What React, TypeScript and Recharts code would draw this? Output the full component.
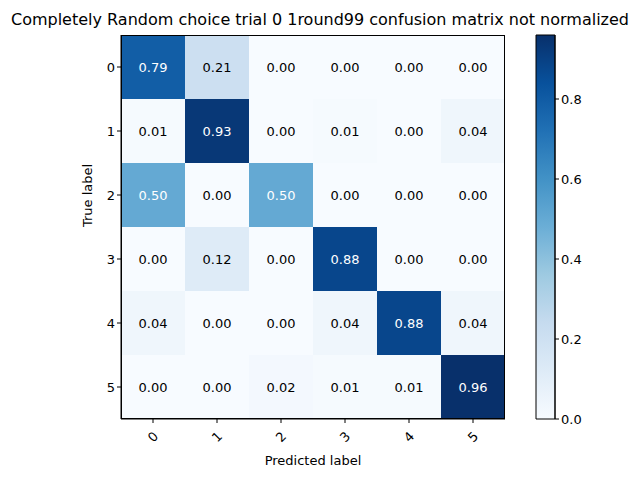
import React from "react";
import { ScatterChart, Scatter, XAxis, YAxis, BarChart, Bar } from "recharts";

const classes = [0, 1, 2, 3, 4, 5];
const matrix = [
  [0.79, 0.21, 0.0, 0.0, 0.0, 0.0],
  [0.01, 0.93, 0.0, 0.01, 0.0, 0.04],
  [0.5, 0.0, 0.5, 0.0, 0.0, 0.0],
  [0.0, 0.12, 0.0, 0.88, 0.0, 0.0],
  [0.04, 0.0, 0.0, 0.04, 0.88, 0.04],
  [0.0, 0.0, 0.02, 0.01, 0.01, 0.96],
];
const colorbarTicks = [0, 0.2, 0.4, 0.6, 0.8];
const vmax = 0.96;

const blues = ["#f7fbff", "#deebf7", "#c6dbef", "#9ecae1", "#6baed6", "#4292c6", "#2171b5", "#08519c", "#08306b"];

function hexToRgb(h: string) {
  return [1, 3, 5].map((i) => parseInt(h.slice(i, i + 2), 16));
}
function blueAt(t: number) {
  const c = Math.max(0, Math.min(1, t)) * (blues.length - 1);
  const i = Math.min(Math.floor(c), blues.length - 2);
  const f = c - i;
  const a = hexToRgb(blues[i]);
  const b = hexToRgb(blues[i + 1]);
  const m = a.map((v, k) => Math.round(v + (b[k] - v) * f));
  return `rgb(${m[0]},${m[1]},${m[2]})`;
}

const cells = matrix.flatMap((row, r) => row.map((v, c) => ({ x: c, y: r, v })));

const CELL = 64;
const font = "DejaVu Sans, sans-serif";

const CellShape = (props: any) => {
  const { cx, cy, payload } = props;
  return (
    <g>
      <rect x={cx - CELL / 2} y={cy - CELL / 2} width={CELL} height={CELL} fill={blueAt(payload.v / vmax)} />
      <text
        x={cx}
        y={cy}
        textAnchor="middle"
        dominantBaseline="central"
        fontSize={13}
        fontFamily={font}
        fill={payload.v > vmax / 2 ? "#fff" : "#000"}
      >
        {payload.v.toFixed(2)}
      </text>
    </g>
  );
};

const XTick = (props: any) => {
  const { x, y, payload } = props;
  return (
    <text
      x={x}
      y={y + 12}
      transform={`rotate(-45 ${x} ${y + 12})`}
      textAnchor="middle"
      dominantBaseline="central"
      fontSize={13}
      fontFamily={font}
      fill="#000"
    >
      {payload.value}
    </text>
  );
};

export default function App() {
  const tickStyle = { fill: "#000", fontSize: 13, fontFamily: font };
  return (
    <div style={{ position: "absolute", left: 0, top: 0, width: 640, height: 480, background: "#fff" }}>
      <div
        style={{
          position: "absolute",
          top: 10,
          left: 0,
          width: 640,
          textAlign: "center",
          fontFamily: font,
          fontSize: 16,
          whiteSpace: "nowrap",
        }}
      >
        Completely Random choice trial 0 1round99 confusion matrix not normalized
      </div>
      <div style={{ position: "absolute", left: 0, top: 0 }}>
        <ScatterChart width={640} height={480} margin={{ top: 35, right: 135, bottom: 31, left: 91 }}>
          <XAxis
            type="number"
            dataKey="x"
            domain={[-0.5, 5.5]}
            ticks={classes}
            tick={<XTick />}
            height={30}
            stroke="#000"
            tickSize={4}
            label={{ value: "Predicted label", position: "insideBottom", offset: -16, style: tickStyle }}
          />
          <YAxis
            type="number"
            dataKey="y"
            domain={[-0.5, 5.5]}
            reversed
            ticks={classes}
            tick={tickStyle}
            width={30}
            stroke="#000"
            tickSize={4}
            label={{ value: "True label", angle: -90, position: "insideLeft", offset: -4, style: tickStyle }}
          />
          <Scatter data={cells} shape={<CellShape />} isAnimationActive={false} />
        </ScatterChart>
      </div>
      <div
        style={{
          position: "absolute",
          left: 121,
          top: 35,
          width: 384,
          height: 384,
          border: "1px solid #000",
          boxSizing: "border-box",
          pointerEvents: "none",
        }}
      />
      <div style={{ position: "absolute", left: 0, top: 0 }}>
        <BarChart
          width={640}
          height={480}
          data={[{ name: "cb", v: vmax }]}
          barCategoryGap={0}
          margin={{ top: 35, right: 41, bottom: 61, left: 536 }}
        >
          <defs>
            <linearGradient id="cb" x1="0" y1="1" x2="0" y2="0">
              {blues.map((c, i) => (
                <stop key={i} offset={i / (blues.length - 1)} stopColor={c} />
              ))}
            </linearGradient>
          </defs>
          <XAxis dataKey="name" hide />
          <YAxis
            orientation="right"
            type="number"
            domain={[0, vmax]}
            ticks={colorbarTicks}
            tickFormatter={(v: number) => v.toFixed(1)}
            tick={tickStyle}
            width={44}
            stroke="#000"
            tickSize={4}
          />
          <Bar dataKey="v" fill="url(#cb)" stroke="#000" strokeWidth={1} isAnimationActive={false} />
        </BarChart>
      </div>
    </div>
  );
}
